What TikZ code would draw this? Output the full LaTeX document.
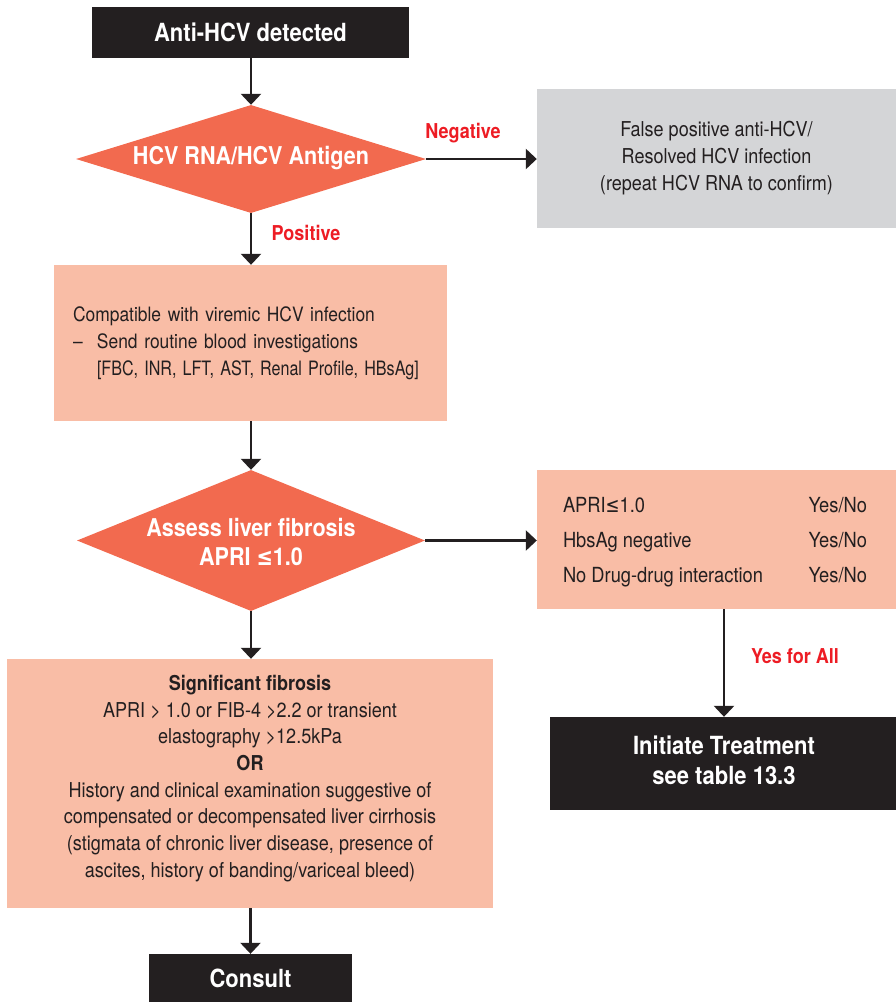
\documentclass[tikz,border=0pt]{standalone}
\usepackage{fontspec}
\usepackage{graphicx}
\setmainfont{TeX Gyre Heros}[FakeStretch=0.88]
\newfontfamily\symf{DejaVu Sans}[FakeStretch=0.8]
\usetikzlibrary{shapes.geometric,arrows.meta}
\definecolor{cblack}{HTML}{231F20}
\definecolor{corange}{HTML}{F26A4F}
\definecolor{csalmon}{HTML}{F9BDA6}
\definecolor{cgrey}{HTML}{D4D5D7}
\definecolor{cred}{HTML}{ED1C24}
\newcommand{\lesym}{{\symf ≤}}
\frenchspacing
\begin{document}
\begin{tikzpicture}[x=1pt,y=-1pt,
  every node/.append style={execute at begin node=\frenchspacing},
  darkbox/.style={rectangle, fill=cblack, text=white, inner sep=0pt, align=center,
    font=\fontsize{25}{28.5}\selectfont\bfseries},
  decision/.style={diamond, fill=corange, inner sep=0pt},
  dtext/.style={text=white, align=center, font=\fontsize{24.5}{29}\selectfont\bfseries},
  softbox/.style={rectangle, fill=csalmon, text=cblack, inner sep=0pt,
    font=\fontsize{20.5}{26.7}\selectfont},
  greybox/.style={rectangle, fill=cgrey, text=cblack, inner sep=0pt, align=center,
    font=\fontsize{20.5}{27}\selectfont},
  lab/.style={text=cred, font=\fontsize{20.5}{24}\selectfont\bfseries},
  arr/.style={draw=cblack, line width=2.6pt, -{Triangle[width=20pt,length=11pt]}}
]
\useasboundingbox (0,0) rectangle (896,1002);

% nodes
\node[darkbox, minimum width=317pt, minimum height=51pt] (start) at (250.5,32.5) {Anti-HCV detected};

\node[decision, minimum width=350pt, minimum height=108pt] (d1) at (251,159) {};
\node[dtext] (d1t) at (251,158) {HCV RNA/HCV Antigen};

\node[greybox, minimum width=359pt, minimum height=139pt] (neg) at (716.5,158.5)
  {False positive anti-HCV/\\Resolved HCV infection\\(repeat HCV RNA to confirm)};

\node[softbox, minimum width=393pt, minimum height=156pt, align=left, text width=355pt,
  font=\fontsize{19.8}{26.8}\selectfont] (vir) at (250.5,343)
  {\mbox{Compatible with viremic HCV infection}\\
   \mbox{\makebox[24pt][l]{--}Send routine blood investigations}\\
   \mbox{\hspace*{24pt}\scalebox{0.925}[1]{[FBC, INR, LFT, AST, Renal Profile, HBsAg]}}};

\node[decision, minimum width=348pt, minimum height=141pt] (d2) at (251,540.5) {};
\node[dtext] (d2t) at (251,542) {Assess liver fibrosis\\APRI \lesym1.0};

\node[softbox, minimum width=359pt, minimum height=139pt, align=center,
  font=\fontsize{20.8}{35}\selectfont] (chk) at (716.5,539.5) {};
\node[align=center, text=cblack, font=\fontsize{20.8}{35}\selectfont] (chkt) at (715,542.5)
  {\makebox[304pt]{APRI\lesym1.0\hfill Yes/No}\\
   \makebox[304pt]{HbsAg negative\hfill Yes/No}\\
   \makebox[304pt]{No Drug-drug interaction\hfill Yes/No}};

\node[darkbox, minimum width=346pt, minimum height=93pt] (treat) at (723,763.5) {};
\node[align=center, text=white, font=\fontsize{25}{29.5}\selectfont\bfseries] (treatt) at (724,760.5)
  {Initiate Treatment\\see table 13.3};

\node[softbox, minimum width=486pt, minimum height=249pt, align=center] (sig) at (250,783.5)
  {\textbf{Significant fibrosis}\\
   APRI > 1.0 or FIB-4 >2.2 or transient\\
   elastography >12.5kPa\\
   \textbf{OR}\\
   History and clinical examination suggestive of\\
   compensated or decompensated liver cirrhosis\\
   (stigmata of chronic liver disease, presence of\\
   ascites, history of banding/variceal bleed)\\[-12pt]};

\node[darkbox, minimum width=203pt, minimum height=48pt] (consult) at (250.5,978) {Consult};

% labels
\node[lab] (lneg) at (463,133) {Negative};
\node[lab] (lpos) at (306,233) {Positive};
\node[lab] (lyes) at (795,656) {Yes for All};

% connectors
\draw[arr] (start.south -| d1.north) -- (d1.north);
\draw[arr] (d1.east) -- (d1.east -| neg.west);
\draw[arr] (d1.south) -- (d1.south |- vir.north);
\draw[arr] (vir.south -| d2.north) -- (d2.north);
\draw[arr] (d2.east) -- (d2.east -| chk.west);
\draw[arr] (treatt.north |- chk.south) -- (treatt.north |- treat.north);
\draw[arr] (d2.south) -- (d2.south |- sig.north);
\draw[arr] (sig.south -| consult.north) -- (consult.north);
\end{tikzpicture}
\end{document}
